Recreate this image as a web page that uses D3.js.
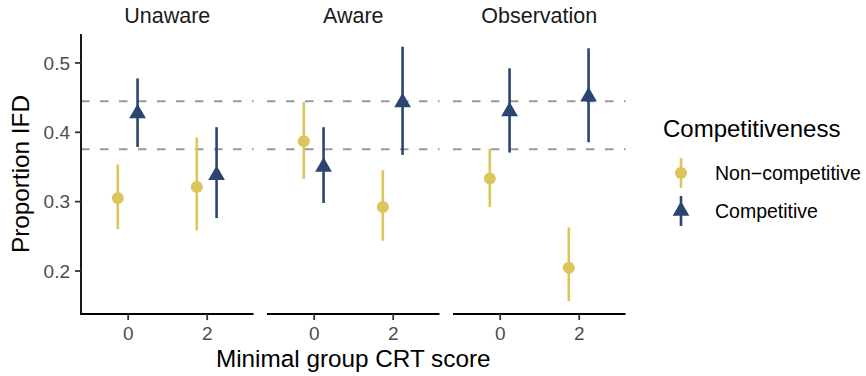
<!DOCTYPE html>
<html>
<head>
<meta charset="utf-8">
<script src="https://cdn.jsdelivr.net/npm/d3@7"></script>
<style>
  html, body { margin: 0; padding: 0; background: #fff; }
  svg { display: block; font-family: "Liberation Sans", Arial, Helvetica, sans-serif; }
</style>
</head>
<body>
<svg id="chart" width="866" height="376"></svg>
<script>
// Facets, x positions and series
const conditions = ["Unaware", "Aware", "Observation"];
const condition = ["Unaware", "Unaware", "Aware", "Aware", "Observation", "Observation"];
const crt = [0, 2, 0, 2, 0, 2];

const nonCompMean = [0.3045, 0.3204, 0.3864, 0.2915, 0.3325, 0.2039];
const nonCompLow  = [0.2597, 0.2578, 0.3320, 0.2429, 0.2915, 0.1557];
const nonCompHigh = [0.3530, 0.3918, 0.4430, 0.3445, 0.3758, 0.2620];

const compMean = [0.4264, 0.3376, 0.3495, 0.4425, 0.4293, 0.4506];
const compLow  = [0.3780, 0.2756, 0.2973, 0.3667, 0.3700, 0.3850];
const compHigh = [0.4770, 0.4066, 0.4066, 0.5227, 0.4915, 0.5204];

const groupNames = ["Non−competitive", "Competitive"];
const groupColors = ["#DCC55C", "#2C4570"];

// Reference levels drawn as dashed lines in every facet
const refLines = [0.444, 0.375];

const yTicks = [0.2, 0.3, 0.4, 0.5];
const xTicks = [0, 2];

// Long-format rows built from the arrays above
const rows = [];
crt.forEach((xv, i) => {
  rows.push({ cond: condition[i], x: xv, g: 0, mean: nonCompMean[i], lo: nonCompLow[i], hi: nonCompHigh[i] });
  rows.push({ cond: condition[i], x: xv, g: 1, mean: compMean[i], lo: compLow[i], hi: compHigh[i] });
});

const svg = d3.select("#chart");
const panelLeft = 81, panelW = 172.5, panelGap = 13.5;
const panelTop = 34, panelBottom = 314;
const dodge = 0.25;

const facet = d3.scaleOrdinal().domain(conditions)
  .range(conditions.map((c, i) => panelLeft + i * (panelW + panelGap)));
const x = d3.scaleLinear().domain([-1.182, 3.185]).range([0, panelW]);
const y = d3.scaleLinear().domain([0.1373, 0.5410]).range([panelBottom, panelTop]);

// Triangle with R-style proportions (centroid at the data point)
function triangle(cx, cy, s) {
  return `M${cx},${cy - 1.555 * s}L${cx + 1.347 * s},${cy + 0.778 * s}L${cx - 1.347 * s},${cy + 0.778 * s}Z`;
}

conditions.forEach(cond => {
  const g = svg.append("g").attr("transform", `translate(${facet(cond)},0)`);

  // dashed reference lines
  g.selectAll("line.ref").data(refLines).join("line")
    .attr("class", "ref")
    .attr("x1", 0).attr("x2", panelW)
    .attr("y1", d => y(d)).attr("y2", d => y(d))
    .attr("stroke", "#999999").attr("stroke-width", 2)
    .attr("stroke-dasharray", "8.5,10.5");

  const data = rows.filter(r => r.cond === cond);
  const px = d => x(d.x + (d.g === 0 ? -dodge : dodge));

  g.selectAll("line.err").data(data).join("line")
    .attr("class", "err")
    .attr("x1", px).attr("x2", px)
    .attr("y1", d => y(d.lo)).attr("y2", d => y(d.hi))
    .attr("stroke", d => groupColors[d.g]).attr("stroke-width", 2.6);

  g.selectAll("circle.pt").data(data.filter(d => d.g === 0)).join("circle")
    .attr("class", "pt")
    .attr("cx", px).attr("cy", d => y(d.mean)).attr("r", 6)
    .attr("fill", groupColors[0]);

  g.selectAll("path.pt").data(data.filter(d => d.g === 1)).join("path")
    .attr("class", "pt")
    .attr("d", d => triangle(px(d), y(d.mean), 6.2))
    .attr("fill", groupColors[1]);

  // x axis per panel
  const xa = g.append("g").attr("transform", `translate(0,${panelBottom})`)
    .call(d3.axisBottom(x).tickValues(xTicks).tickSize(6).tickPadding(5).tickFormat(d3.format("d")));
  xa.select(".domain").attr("stroke", "#000").attr("stroke-width", 1.8)
    .attr("d", `M0,0H${panelW}`);
  xa.selectAll(".tick line").attr("stroke", "#333").attr("stroke-width", 1.8);
  xa.selectAll(".tick text").attr("fill", "#4D4D4D").attr("font-size", 19)
    .attr("font-family", "Liberation Sans, Arial, sans-serif").attr("dy", "0.78em");

  // facet strip label
  svg.append("text")
    .attr("x", facet(cond) + panelW / 2).attr("y", 22.5)
    .attr("text-anchor", "middle").attr("font-size", 21.5).attr("fill", "#1A1A1A")
    .text(cond);
});

// y axis on the first panel only
const ya = svg.append("g").attr("transform", `translate(${panelLeft},0)`)
  .call(d3.axisLeft(y).tickValues(yTicks).tickSize(6).tickPadding(5).tickFormat(d3.format(".1f")));
ya.select(".domain").attr("stroke", "#000").attr("stroke-width", 1.8)
  .attr("d", `M0,${panelTop}V${panelBottom + 0.9}`);
ya.selectAll(".tick line").attr("stroke", "#333").attr("stroke-width", 1.8);
ya.selectAll(".tick text").attr("fill", "#4D4D4D").attr("font-size", 19)
  .attr("font-family", "Liberation Sans, Arial, sans-serif").attr("dy", "0.36em");

// axis titles
const plotRight = facet(conditions[2]) + panelW;
svg.append("text")
  .attr("x", (panelLeft + plotRight) / 2).attr("y", 367)
  .attr("text-anchor", "middle").attr("font-size", 24.3).attr("fill", "#000")
  .text("Minimal group CRT score");
svg.append("text")
  .attr("transform", `translate(29,${(panelTop + panelBottom) / 2}) rotate(-90)`)
  .attr("text-anchor", "middle").attr("font-size", 24.3).attr("fill", "#000")
  .text("Proportion IFD");

// legend
const legend = svg.append("g");
legend.append("text").attr("x", 663).attr("y", 137)
  .attr("font-size", 24).attr("fill", "#000").text("Competitiveness");
const keyY = [173, 211];
const keyX = 681;
groupNames.forEach((name, i) => {
  legend.append("line")
    .attr("x1", keyX).attr("x2", keyX)
    .attr("y1", keyY[i] - 15).attr("y2", keyY[i] + 15)
    .attr("stroke", groupColors[i]).attr("stroke-width", 2.6);
  if (i === 0) {
    legend.append("circle").attr("cx", keyX).attr("cy", keyY[i]).attr("r", 6).attr("fill", groupColors[i]);
  } else {
    legend.append("path").attr("d", triangle(keyX, keyY[i], 6.2)).attr("fill", groupColors[i]);
  }
  legend.append("text").attr("x", 715).attr("y", keyY[i]).attr("dy", "0.36em")
    .attr("font-size", 19.5).attr("fill", "#000").text(name);
});
</script>
</body>
</html>
